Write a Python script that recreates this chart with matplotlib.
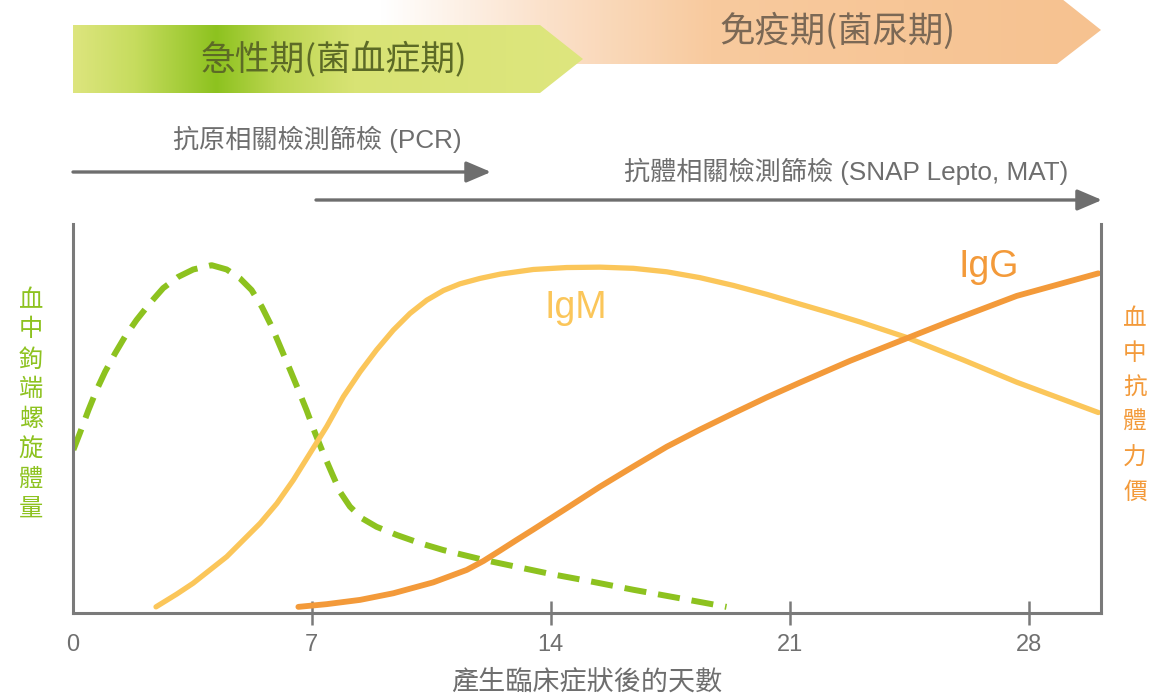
import numpy as np
import matplotlib
matplotlib.use("Agg")
import matplotlib.pyplot as plt
from matplotlib.colors import LinearSegmentedColormap
from matplotlib.patches import Polygon

plt.rcParams['font.family'] = ['Liberation Sans', 'Noto Sans CJK TC']

# ---- data (days after symptom onset, relative level 0-100) ----
lepto_days = [0.02, 0.21, 0.46, 0.70, 0.95, 1.24, 1.53, 1.87, 2.26, 2.65, 3.09, 3.53, 4.07,
              4.51, 4.90, 5.24, 5.54, 5.83, 6.12, 6.37, 6.61, 6.85, 7.10, 7.34, 7.59, 7.83,
              8.12, 8.47, 8.90, 9.49, 10.17, 10.86, 12.03, 13.98, 15.20, 16.42, 17.79, 19.15]
lepto_level = [41.9, 46.2, 52.1, 57.3, 62.0, 66.7, 71.0, 75.3, 79.6, 83.5, 86.4, 88.3, 89.4,
               88.3, 86.0, 83.0, 78.7, 73.6, 67.6, 62.4, 57.3, 52.1, 46.2, 41.0, 35.9, 31.1,
               27.3, 24.3, 22.1, 20.0, 17.9, 16.1, 13.6, 10.0, 8.0, 5.9, 3.7, 1.5]

igm_days = [2.44, 3.05, 3.53, 4.02, 4.51, 5.00, 5.49, 5.98, 6.46, 6.95, 7.44, 7.93, 8.42,
            8.90, 9.39, 9.88, 10.37, 10.86, 11.34, 11.93, 12.52, 13.49, 14.47, 15.44, 16.42,
            17.40, 18.37, 19.35, 20.33, 21.30, 22.20, 23.06, 24.43, 26.09, 27.65, 30.04]
igm_level = [1.5, 4.8, 7.6, 11.0, 14.4, 18.7, 23.0, 28.1, 34.1, 41.0, 47.9, 55.6, 62.0,
             67.6, 72.7, 77.0, 80.4, 82.9, 84.6, 86.0, 87.1, 88.3, 88.8, 88.9, 88.6,
             87.7, 86.2, 84.2, 81.9, 79.4, 77.1, 74.8, 70.8, 65.0, 59.3, 51.5]

igg_days = [6.61, 7.44, 8.42, 9.39, 10.56, 11.54, 12.03, 12.52, 13.00, 13.49, 14.47, 15.44,
            16.42, 17.40, 18.37, 19.35, 20.33, 21.30, 22.77, 24.43, 25.70, 27.65, 30.04]
igg_level = [1.5, 2.2, 3.3, 5.0, 7.8, 11.0, 13.3, 16.0, 18.7, 21.4, 26.9, 32.4,
             37.6, 42.7, 47.1, 51.3, 55.4, 59.2, 64.8, 70.6, 75.0, 81.5, 87.3]

day_ticks = [0, 7, 14, 21, 28]

green = '#8DC21F'
yellow = '#FBC65A'
orange = '#F39A3A'
gray = '#7a7a7a'

fig = plt.figure(figsize=(11.49, 6.99), dpi=100)

# overlay in pixel coordinates for the phase banners and labels
bg = fig.add_axes([0, 0, 1, 1])
bg.set_xlim(0, 1149)
bg.set_ylim(699, 0)
bg.axis('off')

def banner(pts, stops, x0, x1, y0, y1):
    cmap = LinearSegmentedColormap.from_list('b', stops)
    poly = Polygon(pts, closed=True, facecolor='none', edgecolor='none')
    bg.add_patch(poly)
    im = bg.imshow(np.linspace(0, 1, 512)[None, :], cmap=cmap, aspect='auto',
                   extent=[x0, x1, y1, y0], interpolation='bilinear')
    im.set_clip_path(poly)

# immune phase (behind)
banner([(73, -5), (1057, -5), (1101, 30), (1057, 64), (73, 64)],
       [(0, '#ffffff'), (0.30, '#ffffff'), (0.46, '#fbe1ca'), (0.62, '#f8ca9e'),
        (1, '#f6c290')], 73, 1101, -5, 64)
# acute phase
banner([(73, 25), (540, 25), (583, 59), (540, 93), (73, 93)],
       [(0, '#dde57e'), (0.12, '#c6dc5e'), (0.28, '#8dc21f'), (0.40, '#bcd650'),
        (0.55, '#d8e374'), (1, '#dee67e')], 73, 583, 25, 93)

bg.text(334, 60, '急性期(菌血症期)', fontsize=25, color='#5c6a26',
        ha='center', va='center', family=['Noto Sans CJK TC'])
bg.text(838, 31, '免疫期(菌尿期)', fontsize=25.5, color='#7b6855',
        ha='center', va='center', family=['Noto Sans CJK TC'])

# test arrows
arrow_kw = dict(arrowstyle='-|>,head_length=0.75,head_width=0.32', color='#6e6e6e',
                lw=2.4, mutation_scale=20, shrinkA=0, shrinkB=0)
bg.annotate('', xy=(491, 172), xytext=(73, 172), arrowprops=arrow_kw)
bg.annotate('', xy=(1102, 200), xytext=(316, 200), arrowprops=arrow_kw)
bg.text(317, 139, '抗原相關檢測篩檢 (PCR)', fontsize=18.8, color='#6e6e6e',
        ha='center', va='center')
bg.text(846, 171, '抗體相關檢測篩檢 (SNAP Lepto, MAT)', fontsize=18.8, color='#6e6e6e',
        ha='center', va='center')

# side labels
bg.text(31, 405, '\n'.join('血中鉤端螺旋體量'), fontsize=17.5, color=green,
        ha='center', va='center', linespacing=1.42)
bg.text(1135, 406, '\n'.join('血中抗體力價'), fontsize=17, color=orange,
        ha='center', va='center', linespacing=1.75)

# main chart
ax = fig.add_axes([72.7 / 1149, (699 - 612.7) / 699, 1028 / 1149, 388.7 / 699])
ax.patch.set_alpha(0)

ax.plot(lepto_days, lepto_level, color=green, lw=4.3, dashes=(3.7, 2.0),
        dash_capstyle='butt', dash_joinstyle='round')
ax.plot(igm_days, igm_level, color=yellow, lw=3.8, solid_capstyle='round',
        solid_joinstyle='round')
ax.plot(igg_days, igg_level, color=orange, lw=4.2, solid_capstyle='round',
        solid_joinstyle='round')

ax.text(14.74, 78.4, 'IgM', fontsize=27, color=yellow, ha='center', va='center')
ax.text(26.84, 88.9, 'IgG', fontsize=27, color=orange, ha='center', va='center')

ax.set_xlim(0, 30.11)
ax.set_ylim(0, 100)
ax.spines['top'].set_visible(False)
for s in ['left', 'right', 'bottom']:
    ax.spines[s].set_color(gray)
    ax.spines[s].set_linewidth(2.2)
ax.set_yticks([])
ax.set_xticks(day_ticks)
ax.set_xticklabels([str(d) for d in day_ticks])
ax.tick_params(axis='x', direction='inout', length=17, width=1.8, color=gray,
               labelsize=17, labelcolor='#707070', pad=7)
ax.xaxis.get_major_ticks()[0].tick1line.set_visible(False)
ax.set_xlabel('產生臨床症狀後的天數', fontsize=19.5, color='#6e6e6e', labelpad=10)

fig.savefig('out.png', dpi=100)
